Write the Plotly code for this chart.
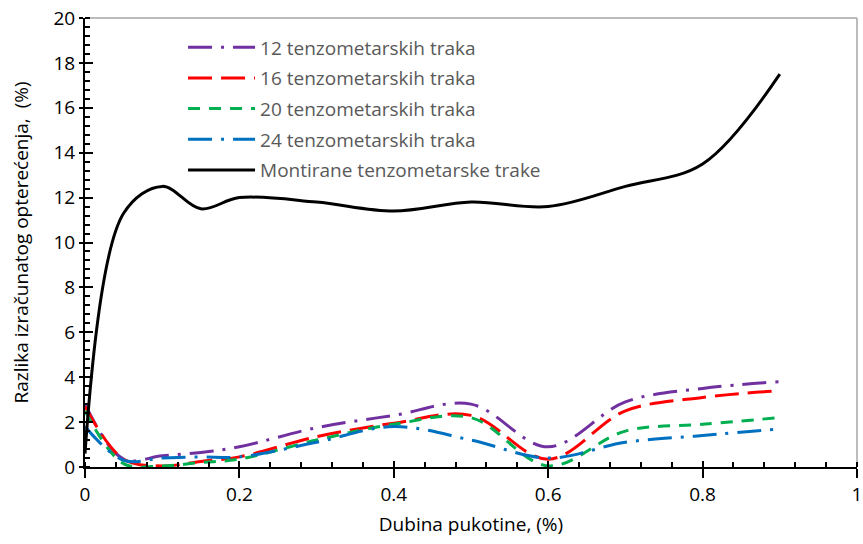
import plotly.graph_objects as go

x_vals = [0, 0.05, 0.1, 0.15, 0.2, 0.3, 0.4, 0.5, 0.6, 0.7, 0.8, 0.9]

s12 = [2.8, 0.35, 0.5, 0.65, 0.9, 1.75, 2.3, 2.8, 0.9, 2.9, 3.5, 3.8]
s16 = [2.7, 0.35, 0.05, 0.25, 0.45, 1.35, 1.95, 2.3, 0.35, 2.5, 3.1, 3.4]
s20 = [2.5, 0.15, 0.05, 0.2, 0.35, 1.2, 1.9, 2.2, 0.05, 1.6, 1.9, 2.2]
s24 = [1.8, 0.3, 0.4, 0.45, 0.45, 1.1, 1.8, 1.2, 0.4, 1.1, 1.4, 1.7]
mont = [0.6, 11.3, 12.5, 11.5, 12.0, 11.8, 11.4, 11.8, 11.6, 12.5, 13.5, 17.5]

x_tickvals = [0, 0.2, 0.4, 0.6, 0.8, 1.0]
x_ticktext = ["0", "0.2", "0.4", "0.6", "0.8", "1"]
y_tickvals = [0, 2, 4, 6, 8, 10, 12, 14, 16, 18, 20]
y_ticktext = ["0", "2", "4", "6", "8", "10", "12", "14", "16", "18", "20"]

names = ["12 tenzometarskih traka", "16 tenzometarskih traka",
         "20 tenzometarskih traka", "24 tenzometarskih traka",
         "Montirane tenzometarske trake"]
series = [s12, s16, s20, s24, mont]
colors = ["#7030A0", "#FF0000", "#00B050", "#0070C0", "#000000"]
dashes = ["24px,9px,3px,9px", "24px,9px", "12px,9px", "24px,9px,3px,9px", "solid"]

fig = go.Figure()
for i, (n, s, c, d) in enumerate(zip(names, series, colors, dashes)):
    fig.add_trace(go.Scatter(
        x=x_vals, y=s, name=n, mode="lines",
        line=dict(color=c, width=3, dash=d, shape="spline", smoothing=1.0),
        legendgroup="g%d" % i,
    ))

# overlay axes for inside part of crossing major ticks
fig.add_trace(go.Scatter(x=[0], y=[0], xaxis="x2", yaxis="y2", mode="markers",
                         marker=dict(opacity=0), showlegend=False, hoverinfo="skip"))

font_family = "Open Sans, sans-serif"

fig.update_layout(
    width=863, height=544,
    margin=dict(l=85, r=6, t=18, b=77, autoexpand=False),
    paper_bgcolor="white", plot_bgcolor="white",
    font=dict(family=font_family, color="#000000", size=19),
    showlegend=True,
    legend=dict(
        x=0.127, y=0.977, xanchor="left", yanchor="top",
        font=dict(size=19, color="#595959", family=font_family),
        bgcolor="rgba(0,0,0,0)", tracegroupgap=3, itemwidth=67,
        traceorder="grouped",
    ),
    xaxis=dict(
        range=[0, 1], tickmode="array", tickvals=x_tickvals, ticktext=x_ticktext,
        automargin=False,
        showgrid=False, zeroline=False, ticklabeloverflow="allow",
        showline=True, linecolor="black", linewidth=2,
        ticks="outside", ticklen=9, tickwidth=2, tickcolor="black",
        minor=dict(dtick=0.04, tick0=0, ticks="inside", ticklen=5, tickwidth=1.5, tickcolor="black", showgrid=False),
        title=dict(text="Dubina pukotine, (%)", font=dict(size=19), standoff=12),
        tickfont=dict(size=19),
    ),
    yaxis=dict(
        range=[0, 20], tickmode="array", tickvals=y_tickvals, ticktext=y_ticktext,
        automargin=False,
        showgrid=False, zeroline=False, ticklabeloverflow="allow",
        showline=True, linecolor="black", linewidth=2,
        ticks="outside", ticklen=4, tickwidth=2, tickcolor="black",
        minor=dict(dtick=0.4, tick0=0, ticks="inside", ticklen=5, tickwidth=1.5, tickcolor="black", showgrid=False),
        title=dict(text="Razlika izračunatog opterećenja,  (%)", font=dict(size=19), standoff=20),
        tickfont=dict(size=19),
    ),
    xaxis2=dict(range=[0, 1], tickmode="array", tickvals=x_tickvals, overlaying="x", anchor="y", side="bottom",
                showgrid=False, zeroline=False, showline=False, showticklabels=False,
                ticks="inside", ticklen=6, tickwidth=2, tickcolor="black"),
    yaxis2=dict(range=[0, 20], tickmode="array", tickvals=y_tickvals, overlaying="y", anchor="x", side="left",
                showgrid=False, zeroline=False, showline=False, showticklabels=False,
                ticks="inside", ticklen=8, tickwidth=2, tickcolor="black"),
    shapes=[
        dict(type="line", xref="paper", yref="paper", x0=0, x1=1, y0=1, y1=1,
             line=dict(color="#A6A6A6", width=1.5), layer="below"),
        dict(type="line", xref="paper", yref="paper", x0=1, x1=1, y0=0, y1=1,
             line=dict(color="#A6A6A6", width=1.5), layer="below"),
    ],
)

fig.write_html("out.html", config={"displayModeBar": False},
               post_script="document.body.style.margin='0px';document.body.style.overflow='hidden';")
